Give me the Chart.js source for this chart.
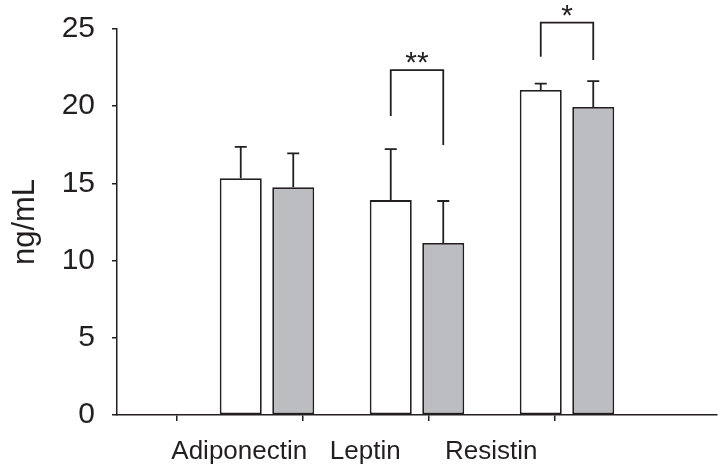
<!DOCTYPE html>
<html>
<head>
<meta charset="utf-8">
<script src="https://cdn.jsdelivr.net/npm/chart.js@4/dist/chart.umd.min.js"></script>
<style>
  html, body { margin: 0; padding: 0; background: #ffffff; }
  #wrap { width: 725px; height: 476px; }
</style>
</head>
<body>
<div id="wrap"><canvas id="c" width="725" height="476"></canvas></div>
<script>
// ---- data ----
const categories = ['Adiponectin', 'Leptin', 'Resistin'];
const groupPositions = [1, 2, 3];              // where each pair of bars sits on the x axis
const labelPositions = [0.815, 1.655, 2.495];  // where the category labels/ticks sit
const controlValues = [15.33, 13.92, 21.05];
const controlErrors = [2.03, 3.30, 0.41];
const treatedValues = [14.75, 11.14, 19.95];
const treatedErrors = [2.20, 2.72, 1.68];
const yTicks = [0, 5, 10, 15, 20, 25];

// significance brackets: category index, bracket top, left foot end, right foot end, text
const sigCategory = [1, 2];
const sigTop = [22.34, 25.41];
const sigLeftFoot = [19.37, 23.20];
const sigRightFoot = [17.49, 22.99];
const sigText = ['**', '*'];

const INK = '#231f20';
const GRAY = '#bcbdc0';

const errorBarPlugin = {
  id: 'errorBars',
  afterDatasetsDraw(chart) {
    const ctx = chart.ctx;
    const y = chart.scales.y;
    const errs = [controlErrors, treatedErrors];
    ctx.save();
    ctx.strokeStyle = INK;
    ctx.lineWidth = 1.8;
    ctx.lineCap = 'butt';
    chart.data.datasets.forEach((ds, di) => {
      const meta = chart.getDatasetMeta(di);
      meta.data.forEach((bar, i) => {
        const v = ds.data[i].y;
        const top = y.getPixelForValue(v + errs[di][i]);
        const base = y.getPixelForValue(v);
        ctx.beginPath();
        ctx.moveTo(bar.x, base);
        ctx.lineTo(bar.x, top);
        ctx.moveTo(bar.x - 6, top);
        ctx.lineTo(bar.x + 6, top);
        ctx.stroke();
      });
    });
    // significance brackets
    const m0 = chart.getDatasetMeta(0), m1 = chart.getDatasetMeta(1);
    ctx.font = '30px "Liberation Sans", Arial, sans-serif';
    ctx.fillStyle = INK;
    ctx.textAlign = 'center';
    ctx.textBaseline = 'alphabetic';
    sigCategory.forEach((ci, k) => {
      const xl = m0.data[ci].x, xr = m1.data[ci].x;
      const yt = y.getPixelForValue(sigTop[k]);
      ctx.beginPath();
      ctx.moveTo(xl, y.getPixelForValue(sigLeftFoot[k]));
      ctx.lineTo(xl, yt);
      ctx.lineTo(xr, yt);
      ctx.lineTo(xr, y.getPixelForValue(sigRightFoot[k]));
      ctx.stroke();
      ctx.fillText(sigText[k], (xl + xr) / 2, yt + 2);
    });
    ctx.restore();
  }
};

new Chart(document.getElementById('c'), {
  type: 'bar',
  data: {
    datasets: [
      {
        label: 'Control',
        xAxisID: 'xb',
        data: groupPositions.map((x, i) => ({ x: x, y: controlValues[i] })),
        backgroundColor: '#ffffff',
        borderColor: INK,
        borderWidth: 1.8,
        borderSkipped: false
      },
      {
        label: 'Treated',
        xAxisID: 'xb',
        data: groupPositions.map((x, i) => ({ x: x, y: treatedValues[i] })),
        backgroundColor: GRAY,
        borderColor: INK,
        borderWidth: 1.8,
        borderSkipped: false
      }
    ]
  },
  options: {
    responsive: false,
    animation: false,
    categoryPercentage: 0.7,
    barPercentage: 0.8,
    layout: { padding: { top: 29, right: 8, left: 0, bottom: 0 } },
    plugins: { legend: { display: false }, tooltip: { enabled: false } },
    scales: {
      xb: {
        type: 'linear',
        position: 'bottom',
        display: false,
        min: 0,
        max: 4,
        offset: false,
        afterBuildTicks(scale) { scale.ticks = groupPositions.map(v => ({ value: v })); }
      },
      x: {
        type: 'linear',
        position: 'bottom',
        min: 0,
        max: 4,
        offset: false,
        afterFit(scale) { scale.height = 61; scale.paddingLeft = 0; scale.paddingRight = 0; },
        afterBuildTicks(scale) { scale.ticks = labelPositions.map(v => ({ value: v })); },
        grid: { drawOnChartArea: false, drawTicks: true, tickLength: 6, color: INK, lineWidth: 1.5 },
        border: { color: INK, width: 1.5 },
        ticks: {
          autoSkip: false,
          maxRotation: 0,
          padding: 15,
          color: INK,
          font: { family: '"Liberation Sans", Arial, sans-serif', size: 26 },
          callback: (v, i) => categories[i]
        }
      },
      y: {
        min: 0,
        max: 25,
        afterFit(scale) { scale.width = 117; scale.paddingTop = 0; scale.paddingBottom = 0; },
        afterBuildTicks(scale) { scale.ticks = yTicks.map(v => ({ value: v })); },
        grid: { drawOnChartArea: false, drawTicks: true, tickLength: 5, color: INK, lineWidth: 1.5 },
        border: { color: INK, width: 1.5 },
        ticks: {
          padding: 17,
          color: INK,
          font: { family: '"Liberation Sans", Arial, sans-serif', size: 30 }
        },
        title: {
          display: true,
          text: 'ng/mL',
          color: INK,
          padding: { top: 7, bottom: 0 },
          font: { family: '"Liberation Sans", Arial, sans-serif', size: 31 }
        }
      }
    }
  },
  plugins: [errorBarPlugin]
});
</script>
</body>
</html>
